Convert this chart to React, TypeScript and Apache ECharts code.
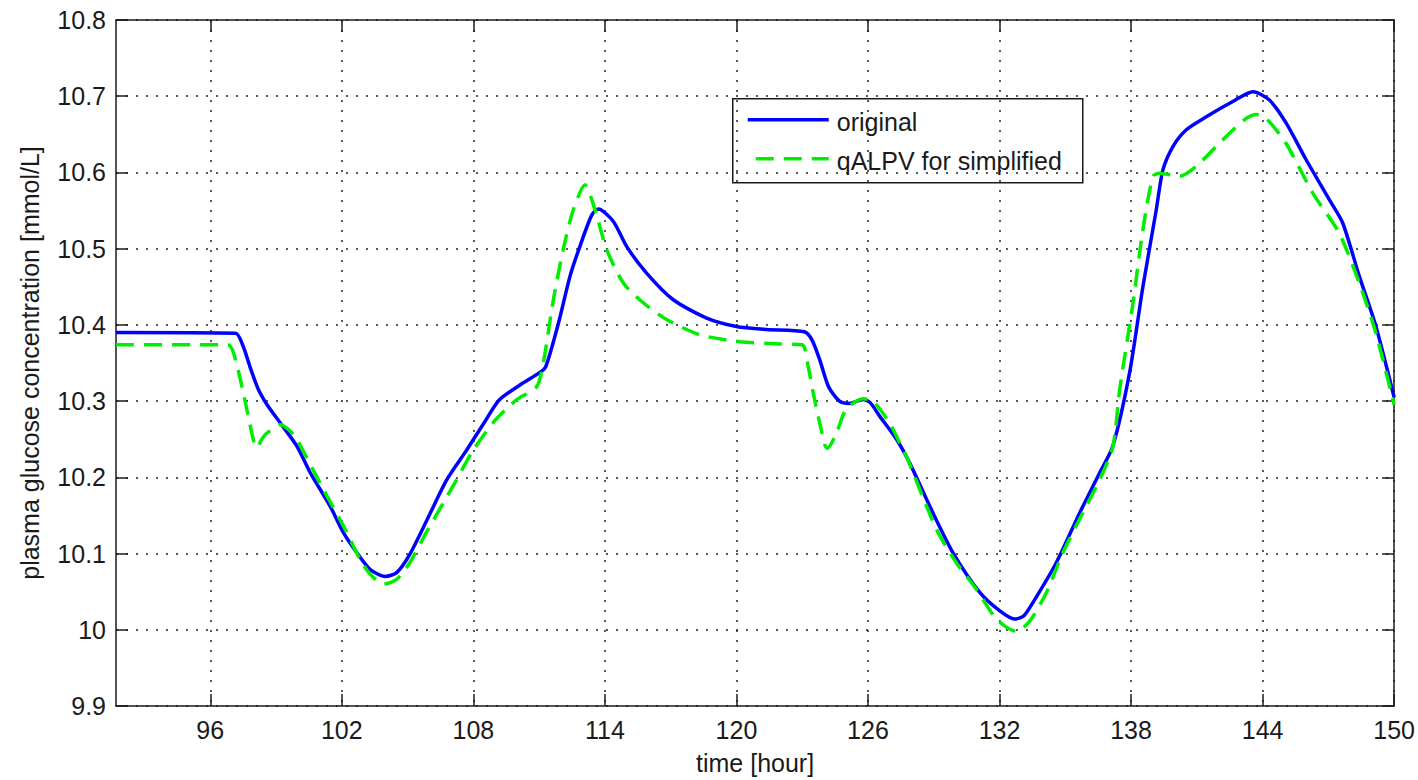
import React, { useEffect, useRef } from "react";
import * as echarts from "echarts";

const xTicks = [96, 102, 108, 114, 120, 126, 132, 138, 144, 150];
const xMin = 91.7;
const xMax = 150;
const legendNames = ["original", "qALPV for simplified"];

const timeOriginal = [
  91.7, 97.15, 97.5, 97.8, 98.2, 98.6, 99.2, 99.95, 100.56, 101.47, 102.08, 102.69, 103.3, 103.98, 104.5,
  105.1, 105.9, 106.79, 107.7, 108.5, 109.2, 110.28, 111.0, 111.3, 111.88, 112.41, 112.86, 113.4,
  113.7, 114.38, 114.99, 115.9, 117.12, 118.64, 120.0, 121.37, 123.1, 123.45, 123.8, 124.2, 124.7,
  125.17, 125.78, 126.1, 126.54, 127.3, 127.9, 128.97, 129.88, 131.1, 132.0, 132.69, 133.1, 133.53,
  134.59, 135.65, 136.57, 137.17, 137.93, 138.54, 139.15, 139.45, 139.91, 140.52, 141.43, 142.64,
  143.56, 144.31, 145.07, 145.98, 147.05, 147.65, 148.41, 149.17, 150.0,
];
const valuesOriginal = [
  10.39, 10.389, 10.372, 10.346, 10.315, 10.295, 10.271, 10.241, 10.206, 10.162, 10.127, 10.101, 10.079,
  10.07, 10.075, 10.099, 10.145, 10.197, 10.236, 10.272, 10.302, 10.324, 10.337, 10.345, 10.402, 10.464,
  10.503, 10.544, 10.552, 10.536, 10.503, 10.468, 10.433, 10.409, 10.398, 10.394, 10.391, 10.38,
  10.354, 10.319, 10.3, 10.297, 10.302, 10.298, 10.28, 10.25, 10.219, 10.153, 10.101, 10.049, 10.025,
  10.014, 10.018, 10.036, 10.088, 10.153, 10.206, 10.241, 10.337, 10.45, 10.551, 10.603, 10.634,
  10.656, 10.673, 10.693, 10.706, 10.695, 10.665, 10.617, 10.564, 10.534, 10.464, 10.398, 10.305,
];

const timeSimplified = [
  91.7, 96.8, 97.22, 97.67, 98.0, 98.13, 98.35, 98.58, 99.19, 99.6, 99.95, 101.16, 102.08, 102.84,
  103.29, 103.9, 104.5, 105.1, 105.9, 106.6, 107.24, 108.0, 109.0, 109.98, 110.89, 111.19, 111.65,
  112.1, 112.56, 113.09, 113.55, 114.08, 114.84, 115.75, 116.82, 118.33, 120.16, 122.0, 123.0, 123.27,
  123.5, 123.8, 124.05, 124.15, 124.56, 125.0, 125.78, 126.23, 126.99, 127.6, 127.75, 129.12, 130.03,
  130.95, 131.86, 132.77, 133.37, 134.14, 134.89, 135.65, 136.57, 137.17, 137.48, 138.09, 138.54,
  139.0, 139.3, 140.21, 140.97, 142.19, 143.25, 143.71, 144.16, 145.07, 146.29, 147.5, 148.41,
  149.17, 150.0,
];
const valuesSimplified = [
  10.374, 10.374, 10.346, 10.289, 10.245, 10.239, 10.25, 10.258, 10.269, 10.262, 10.25, 10.184,
  10.136, 10.092, 10.073, 10.06, 10.066, 10.088, 10.13, 10.165, 10.197, 10.236, 10.275, 10.302,
  10.319, 10.35, 10.433, 10.499, 10.551, 10.584, 10.551, 10.499, 10.455, 10.429, 10.407, 10.387,
  10.378, 10.375, 10.374, 10.346, 10.311, 10.271, 10.241, 10.238, 10.258, 10.289, 10.303, 10.3,
  10.271, 10.236, 10.228, 10.132, 10.088, 10.053, 10.014, 9.998, 10.011, 10.049, 10.101, 10.145,
  10.197, 10.24, 10.315, 10.429, 10.525, 10.595, 10.599, 10.595, 10.608, 10.643, 10.671, 10.676,
  10.671, 10.638, 10.573, 10.52, 10.455, 10.389, 10.295,
];

const FONT = "'Liberation Sans', Arial, sans-serif";
const INK = "#1a1a1a";
const BLUE = "#0000ff";
const GREEN = "#00ee00";
const DASH = [18, 10];

export default function App() {
  const ref = useRef<HTMLDivElement>(null);
  useEffect(() => {
    if (!ref.current) return;
    const chart = echarts.init(ref.current, undefined, { renderer: "svg" });
    const gridStyle = { color: "#222", width: 1.5, type: [2, 8] as number[] };
    const axisLine = { show: true, onZero: false, lineStyle: { color: INK, width: 1.5 } };
    const tickStyle = { color: INK, width: 1.5 };
    chart.setOption({
      animation: false,
      backgroundColor: "#fff",
      textStyle: { fontFamily: FONT },
      grid: { left: 116, right: 23, top: 20, bottom: 73 },
      legend: { show: false },
      xAxis: [
        {
          type: "value",
          min: xMin,
          max: xMax,
          position: "bottom",
          name: "time [hour]",
          nameLocation: "middle",
          nameGap: 44,
          nameTextStyle: { fontSize: 25, color: INK, fontFamily: FONT },
          axisLine,
          axisTick: { show: true, inside: true, length: 12, customValues: xTicks, lineStyle: tickStyle },
          axisLabel: { show: true, customValues: xTicks, fontSize: 25, color: INK, margin: 11, fontFamily: FONT },
          splitLine: { show: true, lineStyle: gridStyle },
        },
        {
          type: "value",
          min: xMin,
          max: xMax,
          position: "top",
          axisLine,
          axisTick: { show: true, inside: true, length: 12, customValues: xTicks, lineStyle: tickStyle },
          axisLabel: { show: false, customValues: xTicks },
          splitLine: { show: false },
        },
      ],
      yAxis: [
        {
          type: "value",
          min: 9.9,
          max: 10.8,
          interval: 0.1,
          position: "left",
          name: "plasma glucose concentration [mmol/L]",
          nameLocation: "middle",
          nameGap: 74,
          nameTextStyle: { fontSize: 25, color: INK, fontFamily: FONT },
          axisLine,
          axisTick: { show: true, inside: true, length: 12, lineStyle: tickStyle },
          axisLabel: {
            show: true,
            fontSize: 25,
            color: INK,
            margin: 10,
            fontFamily: FONT,
            formatter: (v: number) => String(Math.round(v * 10) / 10),
          },
          splitLine: { show: true, lineStyle: gridStyle },
        },
        {
          type: "value",
          min: 9.9,
          max: 10.8,
          interval: 0.1,
          position: "right",
          axisLine,
          axisTick: { show: true, inside: true, length: 12, lineStyle: tickStyle },
          axisLabel: { show: false },
          splitLine: { show: false },
        },
      ],
      graphic: [
        {
          type: "group",
          left: 732,
          top: 98,
          z: 100,
          children: [
            {
              type: "rect",
              shape: { x: 0, y: 0, width: 350, height: 84 },
              style: { fill: "#fff", stroke: INK, lineWidth: 1.5 },
            },
            {
              type: "line",
              shape: { x1: 15, y1: 21, x2: 96, y2: 21 },
              style: { stroke: BLUE, lineWidth: 3.5 },
            },
            {
              type: "text",
              x: 104,
              y: 23,
              style: { text: legendNames[0], fill: INK, fontSize: 25, fontFamily: FONT, verticalAlign: "middle", align: "left" },
            },
            {
              type: "line",
              shape: { x1: 23, y1: 60, x2: 96, y2: 60 },
              style: { stroke: GREEN, lineWidth: 3.5, lineDash: DASH },
            },
            {
              type: "text",
              x: 104,
              y: 62,
              style: { text: legendNames[1], fill: INK, fontSize: 25, fontFamily: FONT, verticalAlign: "middle", align: "left" },
            },
          ],
        },
      ],
      series: [
        {
          name: legendNames[0],
          type: "line",
          xAxisIndex: 0,
          yAxisIndex: 0,
          showSymbol: false,
          symbol: "none",
          smooth: 0.25,
          lineStyle: { color: BLUE, width: 3.5 },
          itemStyle: { color: BLUE },
          data: timeOriginal.map((t, i) => [t, valuesOriginal[i]]),
          z: 3,
        },
        {
          name: legendNames[1],
          type: "line",
          xAxisIndex: 0,
          yAxisIndex: 0,
          showSymbol: false,
          symbol: "none",
          smooth: 0.25,
          lineStyle: { color: GREEN, width: 3.5, type: DASH },
          itemStyle: { color: GREEN },
          data: timeSimplified.map((t, i) => [t, valuesSimplified[i]]),
          z: 4,
        },
      ],
    });
    return () => chart.dispose();
  }, []);
  return <div ref={ref} style={{ position: "fixed", left: 0, top: 0, width: 1418, height: 780 }} />;
}
